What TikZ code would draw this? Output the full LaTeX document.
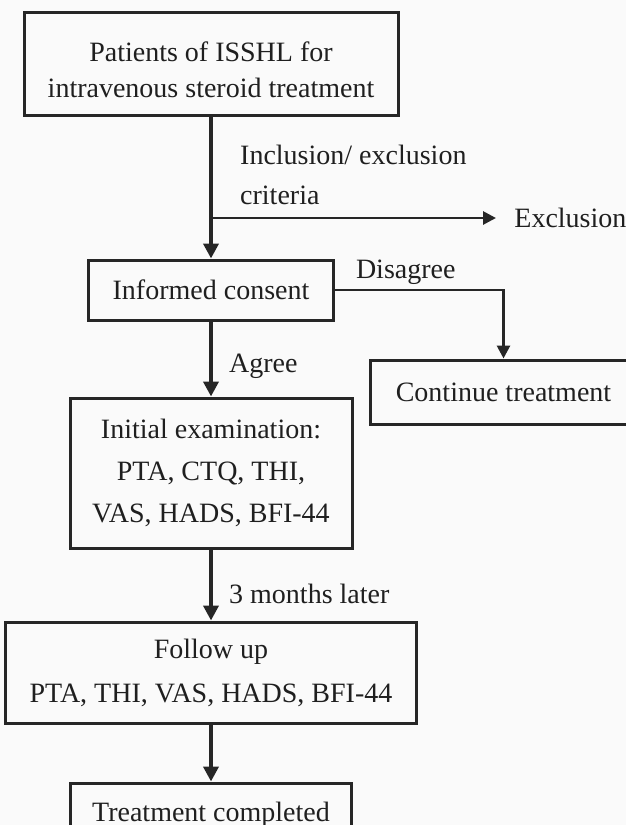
\documentclass[tikz,border=0pt]{standalone}
\usepackage{fontspec}
\setmainfont{Liberation Serif}
\usetikzlibrary{positioning,arrows.meta}

\begin{document}
\begin{tikzpicture}[x=0.5pt, y=-0.5pt,
  box/.style={draw=black!85, line width=1.5pt, align=center, text=black!88, inner sep=0pt},
  flow/.style={draw=black!85, line width=2.2pt, -{Triangle[length=7.5pt,width=7.5pt]}},
  side/.style={draw=black!85, line width=1.4pt, -{Triangle[length=6.5pt,width=6.5pt]}},
  lbl/.style={text=black!88, inner sep=0pt},
  font=\fontsize{14}{18}\selectfont]
\useasboundingbox (0,0) rectangle (626,825);
\clip (0,0) rectangle (626,825);
\fill[black!2] (0,0) rectangle (626,825);

\node [box, minimum width=187pt, minimum height=51.5pt] (patients) at (211,63.5) {\rule{0pt}{16pt}Patients of ISSHL for\\intravenous steroid treatment};
\node [box, below=71pt of patients, minimum width=122.5pt, minimum height=30pt] (consent) {Informed consent};
\node [box, below right=18.5pt and 17pt of consent.south east, minimum width=133pt, minimum height=32pt] (cont) {Continue treatment};
\node [box, below=37.5pt of consent, minimum width=141pt, minimum height=75pt, font=\fontsize{14}{21}\selectfont] (exam) {Initial examination:\\PTA, CTQ, THI,\\VAS, HADS, BFI-44};
\node [box, below=35.5pt of exam, minimum width=205.5pt, minimum height=50.5pt, font=\fontsize{14}{22}\selectfont] (follow) {Follow up\\PTA, THI, VAS, HADS, BFI-44};
\node [box, below=28.5pt of follow, minimum width=140.5pt, minimum height=32pt] (done) {Treatment completed};
\node [lbl, anchor=west, inner xsep=9pt] (excl) at (496,218) {Exclusion};

\draw[flow] (patients) -- node[lbl, right, align=left, xshift=13.5pt, pos=0.41, font=\fontsize{14}{20}\selectfont] (crit) {Inclusion/ exclusion\\criteria} (consent);
\draw[side] (patients.south |- excl.west) -- (excl.west);
\draw[side] (consent.east) -| node[lbl, above, pos=0.21, yshift=2pt] {Disagree} (cont.north);
\draw[flow] (consent) -- node[lbl, right, xshift=8pt, pos=0.6] {Agree} (exam);
\draw[flow] (exam) -- node[lbl, right, xshift=8pt, pos=0.63] {3 months later} (follow);
\draw[flow] (follow) -- (done);
\end{tikzpicture}
\end{document}
